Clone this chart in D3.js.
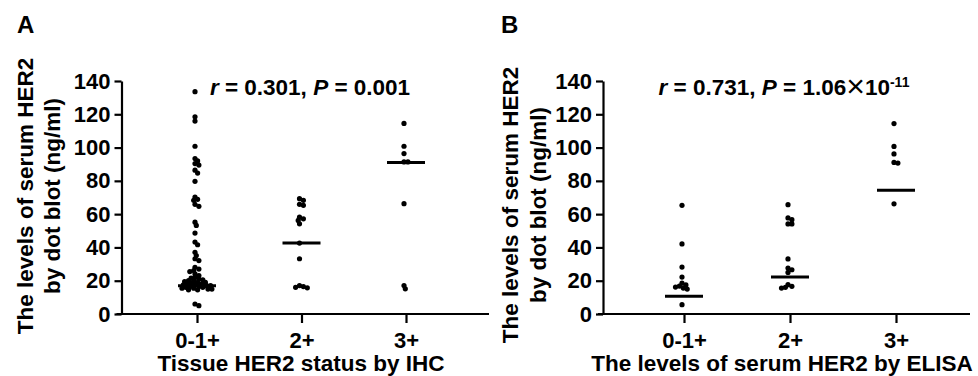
<!DOCTYPE html>
<html>
<head>
<meta charset="utf-8">
<script src="https://cdn.jsdelivr.net/npm/d3@7/dist/d3.min.js"></script>
<style>
  body { margin: 0; background: #fff; }
  svg text { font-family: "Liberation Sans", Arial, sans-serif; font-weight: bold; fill: #000; }
</style>
</head>
<body>
<svg id="chart" width="978" height="376"></svg>
<script>
var categories = ['0-1+', '2+', '3+']
var yTicks = [0, 20, 40, 60, 80, 100, 120, 140]

// panel A: tissue HER2 status by IHC
var ihcLow = [133.6, 118.5, 115.9, 100.8, 93.4, 92, 90.4, 89.5, 86.4, 84.7, 79.7,
              70.3, 68.9, 68.3, 65.9, 64.7, 55.2, 53.2, 48.6, 43.2, 41.6, 37.1, 35.1,
              33.2, 32.1, 28.1, 27, 26.1, 25.5, 24.1, 23.1,
              22, 21.5, 21, 20.5, 20, 20, 19.5, 19, 19, 18.5, 18, 18, 17.5, 17.5,
              17, 17, 16.5, 16.5, 16, 16, 15.5, 15.5, 15, 15, 14.5, 14.5, 6, 5]
var ihcMid = [69.3, 68.3, 65.9, 65.3, 58.2, 57.2, 56.2, 54.2, 42.6, 33.2, 17.1, 16.5, 16, 15.7]
var ihcHigh = [114.5, 100.8, 96.4, 91.4, 91.4, 66.3, 17.1, 15.1]
var ihcMedians = [17, 42.6, 91]

// panel B: serum HER2 by ELISA
var elisaLow = [65.3, 42.1, 28.2, 22.2, 18.5, 17.5, 16.8, 16.2, 15.6, 15, 5.6]
var elisaMid = [65.7, 57.7, 56.7, 54.1, 54.1, 33.1, 27.6, 26.6, 25, 17.6, 16.6, 16, 15.6]
var elisaHigh = [114.4, 100.7, 96.2, 91.1, 90.7, 66.2]
var elisaMedians = [10.6, 22.2, 74.4]

var svg = d3.select('#chart')

// simple beeswarm: push overlapping dots sideways
var dodge = (pys, minDist) => {
  var order = pys.map((_p, i) => i).sort((a, b) => pys[a] - pys[b])
  var placed = [], offsets = new Array(pys.length).fill(0)
  order.forEach((i) => {
    for (var k = 0; k < 40; ++k) {
      var dx = (k % 2 ? 1 : -1) * Math.ceil(k / 2) * 1.3
      var ok = placed.every((p) => Math.hypot(p.x - dx, p.y - pys[i]) >= minDist)
      if (ok) { offsets[i] = dx; placed.push({ x: dx, y: pys[i] }); break }
    }
  })
  return offsets
}

var drawPanel = (cfg) => {
  var g = svg.append('g')
  var y = d3.scaleLinear().domain([0, 140]).range([314, 81])
  var x = d3.scalePoint().domain(categories).range(cfg.xRange)

  g.append('text').attr('x', cfg.letterX).attr('y', 33)
    .style('font-size', '24px').text(cfg.letter)

  // y axis
  g.append('g').attr('transform', 'translate(' + cfg.axisX + ',0)')
    .call(d3.axisLeft(y).tickValues(yTicks).tickSize(7).tickSizeOuter(0).tickPadding(4))
    .call((a) => {
      a.selectAll('path, line').attr('stroke', '#000').attr('stroke-width', 2.2)
      a.selectAll('text').style('font-size', '22px').attr('fill', '#000')
    })

  // x axis
  g.append('line').attr('x1', cfg.axisX - 5).attr('x2', cfg.axisEnd)
    .attr('y1', 314).attr('y2', 314).attr('stroke', '#000').attr('stroke-width', 2.2)
  g.append('g').attr('transform', 'translate(0,314)')
    .call(d3.axisBottom(x).tickSize(9).tickSizeOuter(0).tickPadding(9))
    .call((a) => {
      a.select('.domain').remove()
      a.selectAll('line').attr('stroke', '#000').attr('stroke-width', 2.2)
      a.selectAll('text').style('font-size', '22px').attr('fill', '#000')
    })

  // axis titles
  g.append('text').attr('x', cfg.xTitleX).attr('y', 371).attr('text-anchor', 'middle')
    .style('font-size', '22.5px').text(cfg.xTitle)
  cfg.yTitle.forEach((line, i) => {
    g.append('text')
      .attr('transform', 'translate(' + cfg.yTitleX[i] + ',' + cfg.yTitleY + ') rotate(-90)')
      .attr('text-anchor', 'middle').style('font-size', '22.5px').text(line)
  })

  // dots
  cfg.groups.forEach((vals, gi) => {
    var pys = vals.map((v) => y(v))
    var offs = dodge(pys, 3.4)
    g.append('g').selectAll('circle').data(vals).enter().append('circle')
      .attr('cx', (d, i) => x(categories[gi]) + offs[i] - 2)
      .attr('cy', (d) => y(d))
      .attr('r', 2.6).attr('fill', '#000')
  })

  // median bars
  g.append('g').selectAll('line').data(cfg.medians).enter().append('line')
    .attr('x1', (d, i) => x(categories[i]) - 19)
    .attr('x2', (d, i) => x(categories[i]) + 19)
    .attr('y1', (d) => y(d)).attr('y2', (d) => y(d))
    .attr('stroke', '#000').attr('stroke-width', 3)

  cfg.annotate(g.append('text').attr('x', cfg.noteX).attr('y', 95)
    .attr('text-anchor', 'middle').style('font-size', '22.5px'))
}

drawPanel({
  letter: 'A', letterX: 17, axisX: 121.5, axisEnd: 489, xRange: [197, 406],
  xTitle: 'Tissue HER2 status by IHC', xTitleX: 301,
  yTitle: ['The levels of serum HER2', 'by dot blot (ng/ml)'], yTitleX: [33, 60], yTitleY: 196,
  groups: [ihcLow, ihcMid, ihcHigh], medians: ihcMedians, noteX: 310,
  annotate: (t) => {
    t.append('tspan').style('font-style', 'italic').text('r')
    t.append('tspan').text(' = 0.301, ')
    t.append('tspan').style('font-style', 'italic').text('P')
    t.append('tspan').text(' = 0.001')
  }
})

drawPanel({
  letter: 'B', letterX: 501, axisX: 603, axisEnd: 970, xRange: [684, 896],
  xTitle: 'The levels of serum HER2 by ELISA', xTitleX: 782,
  yTitle: ['The levels of serum HER2', 'by dot blot (ng/ml)'], yTitleX: [518, 546], yTitleY: 205,
  groups: [elisaLow, elisaMid, elisaHigh], medians: elisaMedians, noteX: 784,
  annotate: (t) => {
    t.append('tspan').style('font-style', 'italic').text('r')
    t.append('tspan').text(' = 0.731, ')
    t.append('tspan').style('font-style', 'italic').text('P')
    t.append('tspan').text(' = 1.06')
    t.append('tspan').attr('dy', 2).style('font-weight', 'normal').style('font-size', '32px').text('\u00d7')
    t.append('tspan').attr('dy', -2).text('10')
    t.append('tspan').attr('dy', -8).style('font-size', '14px').text('-11')
  }
})
</script>
</body>
</html>
